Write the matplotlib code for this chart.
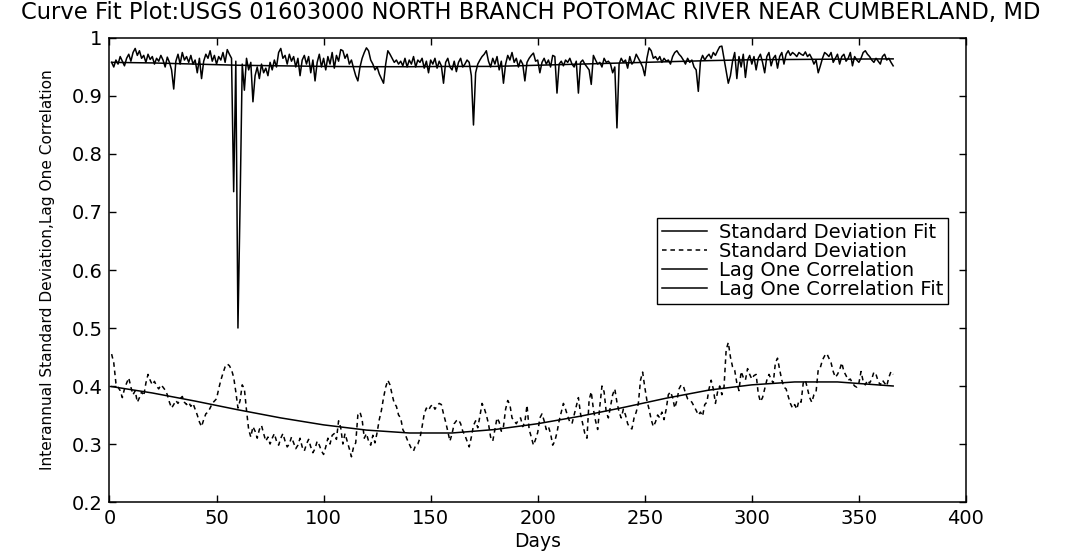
import numpy as np
import matplotlib
matplotlib.use("Agg")
import matplotlib.pyplot as plt

plt.rcParams['font.family'] = ['DejaVu Sans']

STATION = "USGS 01603000 NORTH BRANCH POTOMAC RIVER NEAR CUMBERLAND, MD"

days = np.arange(1, 367)

# interannual standard deviation, one value per day of year
std_dev = [
    0.455, 0.440, 0.405, 0.398, 0.392, 0.380, 0.395, 0.405, 0.414, 0.398,
    0.385, 0.392, 0.372, 0.380, 0.390, 0.383, 0.405, 0.420, 0.410, 0.402,
    0.408, 0.400, 0.395, 0.402, 0.398, 0.393, 0.385, 0.372, 0.362, 0.368,
    0.375, 0.370, 0.378, 0.382, 0.372, 0.368, 0.372, 0.365, 0.370, 0.360,
    0.350, 0.338, 0.330, 0.342, 0.352, 0.355, 0.362, 0.370, 0.374, 0.378,
    0.395, 0.410, 0.422, 0.433, 0.438, 0.435, 0.428, 0.415, 0.390, 0.362,
    0.375, 0.402, 0.395, 0.358, 0.325, 0.312, 0.330, 0.322, 0.310, 0.325,
    0.332, 0.318, 0.305, 0.312, 0.300, 0.310, 0.318, 0.305, 0.298, 0.310,
    0.318, 0.305, 0.295, 0.300, 0.312, 0.302, 0.292, 0.298, 0.310, 0.295,
    0.288, 0.300, 0.308, 0.295, 0.285, 0.292, 0.305, 0.298, 0.288, 0.282,
    0.295, 0.310, 0.300, 0.315, 0.318, 0.308, 0.340, 0.328, 0.300, 0.318,
    0.305, 0.292, 0.278, 0.295, 0.302, 0.350, 0.355, 0.342, 0.310, 0.318,
    0.305, 0.298, 0.315, 0.302, 0.320, 0.342, 0.358, 0.380, 0.398, 0.410,
    0.402, 0.385, 0.370, 0.365, 0.350, 0.345, 0.325, 0.318, 0.308, 0.300,
    0.292, 0.288, 0.298, 0.300, 0.310, 0.330, 0.352, 0.362, 0.358, 0.365,
    0.368, 0.360, 0.366, 0.370, 0.368, 0.352, 0.338, 0.322, 0.305, 0.318,
    0.335, 0.340, 0.342, 0.335, 0.322, 0.315, 0.305, 0.295, 0.312, 0.332,
    0.340, 0.328, 0.348, 0.370, 0.362, 0.350, 0.335, 0.312, 0.305, 0.325,
    0.345, 0.338, 0.322, 0.330, 0.360, 0.375, 0.368, 0.345, 0.340, 0.335,
    0.342, 0.345, 0.330, 0.338, 0.367, 0.325, 0.312, 0.298, 0.308, 0.320,
    0.345, 0.352, 0.340, 0.325, 0.330, 0.318, 0.298, 0.305, 0.320, 0.340,
    0.355, 0.370, 0.360, 0.348, 0.338, 0.335, 0.350, 0.365, 0.380, 0.352,
    0.335, 0.318, 0.310, 0.376, 0.390, 0.360, 0.340, 0.325, 0.365, 0.400,
    0.390, 0.355, 0.345, 0.365, 0.385, 0.395, 0.372, 0.355, 0.345, 0.360,
    0.350, 0.335, 0.328, 0.326, 0.345, 0.355, 0.370, 0.410, 0.424, 0.398,
    0.375, 0.360, 0.342, 0.330, 0.338, 0.350, 0.345, 0.355, 0.342, 0.360,
    0.385, 0.390, 0.380, 0.362, 0.375, 0.395, 0.402, 0.400, 0.388, 0.378,
    0.376, 0.372, 0.365, 0.358, 0.350, 0.355, 0.348, 0.368, 0.372, 0.395,
    0.410, 0.395, 0.370, 0.390, 0.400, 0.385, 0.398, 0.462, 0.475, 0.450,
    0.433, 0.427, 0.405, 0.392, 0.425, 0.415, 0.410, 0.430, 0.420, 0.412,
    0.418, 0.420, 0.387, 0.373, 0.380, 0.395, 0.410, 0.420, 0.412, 0.405,
    0.440, 0.448, 0.428, 0.410, 0.398, 0.395, 0.382, 0.370, 0.362, 0.368,
    0.360, 0.375, 0.372, 0.405, 0.410, 0.395, 0.380, 0.372, 0.385, 0.390,
    0.428, 0.432, 0.445, 0.452, 0.456, 0.448, 0.440, 0.425, 0.415, 0.420,
    0.428, 0.440, 0.425, 0.418, 0.410, 0.412, 0.405, 0.400, 0.398, 0.405,
    0.425, 0.408, 0.402, 0.410, 0.405, 0.412, 0.424, 0.420, 0.408, 0.402,
    0.410, 0.405, 0.400, 0.415, 0.425, 0.420,
]

# lag one correlation, one value per day of year
lag_one = [
    0.958, 0.950, 0.962, 0.955, 0.968, 0.960, 0.952, 0.965, 0.972, 0.960,
    0.975, 0.982, 0.970, 0.978, 0.965, 0.970, 0.958, 0.972, 0.963, 0.968,
    0.955, 0.965, 0.960, 0.970, 0.962, 0.950, 0.967, 0.958, 0.945, 0.912,
    0.960, 0.972, 0.955, 0.975, 0.962, 0.968, 0.958, 0.970, 0.955, 0.962,
    0.940, 0.965, 0.930, 0.960, 0.972, 0.965, 0.978, 0.960, 0.970, 0.955,
    0.968, 0.962, 0.975, 0.958, 0.980, 0.972, 0.965, 0.735, 0.960, 0.500,
    0.715, 0.955, 0.910, 0.965, 0.945, 0.958, 0.890, 0.935, 0.950, 0.930,
    0.955, 0.940, 0.948, 0.935, 0.958, 0.945, 0.962, 0.950, 0.975, 0.982,
    0.965, 0.970, 0.955, 0.972, 0.960, 0.968, 0.950, 0.965, 0.935, 0.962,
    0.970, 0.955, 0.968, 0.940, 0.962, 0.926, 0.958, 0.972, 0.950, 0.965,
    0.945, 0.968, 0.955, 0.975, 0.948, 0.970, 0.960, 0.980, 0.978, 0.965,
    0.972, 0.955, 0.962, 0.948, 0.935, 0.926, 0.950, 0.965, 0.975, 0.983,
    0.978, 0.962, 0.955, 0.945, 0.950, 0.938, 0.930, 0.922, 0.955, 0.978,
    0.972, 0.965, 0.958, 0.962, 0.955, 0.960, 0.952, 0.965, 0.950, 0.962,
    0.955, 0.968, 0.950, 0.962, 0.958, 0.965, 0.948, 0.960, 0.940, 0.962,
    0.955, 0.965, 0.948, 0.960, 0.952, 0.922, 0.958, 0.965, 0.950, 0.945,
    0.960, 0.942, 0.958, 0.965, 0.950, 0.955, 0.962, 0.958, 0.935, 0.850,
    0.940, 0.955, 0.962, 0.968, 0.972, 0.978, 0.960, 0.950, 0.965, 0.955,
    0.968, 0.945, 0.960, 0.922, 0.955, 0.970, 0.962, 0.975, 0.958, 0.965,
    0.950, 0.962, 0.955, 0.926, 0.958, 0.965, 0.970, 0.974, 0.960, 0.962,
    0.940, 0.958, 0.965, 0.955, 0.962, 0.950, 0.970, 0.968, 0.905, 0.955,
    0.960, 0.952, 0.962, 0.958, 0.965, 0.955, 0.950, 0.960, 0.905, 0.958,
    0.962, 0.955, 0.950, 0.945, 0.920, 0.970, 0.962, 0.955, 0.958, 0.950,
    0.965, 0.958, 0.960, 0.955, 0.940, 0.950, 0.845, 0.955, 0.965, 0.958,
    0.962, 0.948, 0.968, 0.955, 0.960, 0.972, 0.965, 0.958, 0.950, 0.935,
    0.965, 0.983, 0.978, 0.965, 0.968, 0.962, 0.968, 0.958, 0.965, 0.960,
    0.962, 0.955, 0.968, 0.975, 0.978, 0.972, 0.968, 0.962, 0.955, 0.965,
    0.958, 0.962, 0.950, 0.945, 0.908, 0.960, 0.970, 0.962, 0.968, 0.972,
    0.965, 0.975, 0.970, 0.978, 0.985, 0.986, 0.965, 0.945, 0.922, 0.935,
    0.960, 0.975, 0.930, 0.968, 0.950, 0.972, 0.932, 0.962, 0.970, 0.955,
    0.968, 0.945, 0.965, 0.972, 0.958, 0.940, 0.968, 0.975, 0.952, 0.965,
    0.970, 0.948, 0.968, 0.975, 0.955, 0.972, 0.978, 0.970, 0.975, 0.972,
    0.968, 0.975, 0.972, 0.970, 0.976, 0.968, 0.972, 0.965, 0.955, 0.962,
    0.940, 0.952, 0.965, 0.975, 0.972, 0.968, 0.975, 0.958, 0.965, 0.972,
    0.955, 0.968, 0.972, 0.960, 0.965, 0.975, 0.952, 0.968, 0.962, 0.958,
    0.965, 0.975, 0.978, 0.972, 0.968, 0.962, 0.958, 0.965, 0.960, 0.955,
    0.968, 0.972, 0.962, 0.965, 0.958, 0.952,
]

# fitted curves, sampled along the year
fit_days = [1, 20, 40, 60, 80, 100, 120, 140, 160, 180, 200, 220, 240, 260, 280, 300, 320, 340, 366]
std_fit = [0.399, 0.388, 0.374, 0.359, 0.345, 0.333, 0.324, 0.319, 0.319, 0.325,
           0.335, 0.348, 0.363, 0.379, 0.393, 0.402, 0.407, 0.407, 0.400]
lag_fit = [0.958, 0.957, 0.955, 0.953, 0.952, 0.951, 0.9505, 0.9505, 0.951, 0.951,
           0.953, 0.955, 0.957, 0.959, 0.961, 0.9625, 0.963, 0.9635, 0.964]

fig = plt.figure(figsize=(10.65, 5.53), dpi=100)
ax = fig.add_axes([0.1028, 0.0922, 0.8042, 0.8391])

ax.plot(fit_days, std_fit, color='black', lw=1.1, label="Standard Deviation Fit")
ax.plot(days, std_dev, color='black', lw=1.1, linestyle=(0, (3, 2.5)), label="Standard Deviation")
ax.plot(days, lag_one, color='black', lw=1.1, label="Lag One Correlation")
ax.plot(fit_days, lag_fit, color='black', lw=1.1, label="Lag One Correlation Fit")

ax.set_xlim(0, 400)
ax.set_ylim(0.2, 1.0)
ax.set_xticks(np.arange(0, 401, 50))
ax.set_yticks(np.arange(0.2, 1.01, 0.1))
ax.set_yticklabels(["0.2", "0.3", "0.4", "0.5", "0.6", "0.7", "0.8", "0.9", "1"])
ax.tick_params(direction='in', top=True, right=True, length=5, labelsize=14, width=1, pad=5)
for s in ax.spines.values():
    s.set_linewidth(1.1)

ax.set_xlabel("Days", fontsize=13.5, labelpad=3)
ax.set_ylabel("Interannual Standard Deviation,Lag One Correlation", fontsize=11.1, labelpad=12)
fig.text(0.4986, 0.978, "Curve Fit Plot:" + STATION, fontsize=16.3, ha='center', va='center')

leg = ax.legend(loc='upper right', bbox_to_anchor=(0.979, 0.612), fontsize=14, frameon=True,
                fancybox=False, framealpha=1, edgecolor='black', handlelength=2.3,
                borderpad=0.25, labelspacing=0.0, handletextpad=0.6, borderaxespad=0)
leg.get_frame().set_linewidth(1.0)

fig.savefig("out.png", dpi=100)
